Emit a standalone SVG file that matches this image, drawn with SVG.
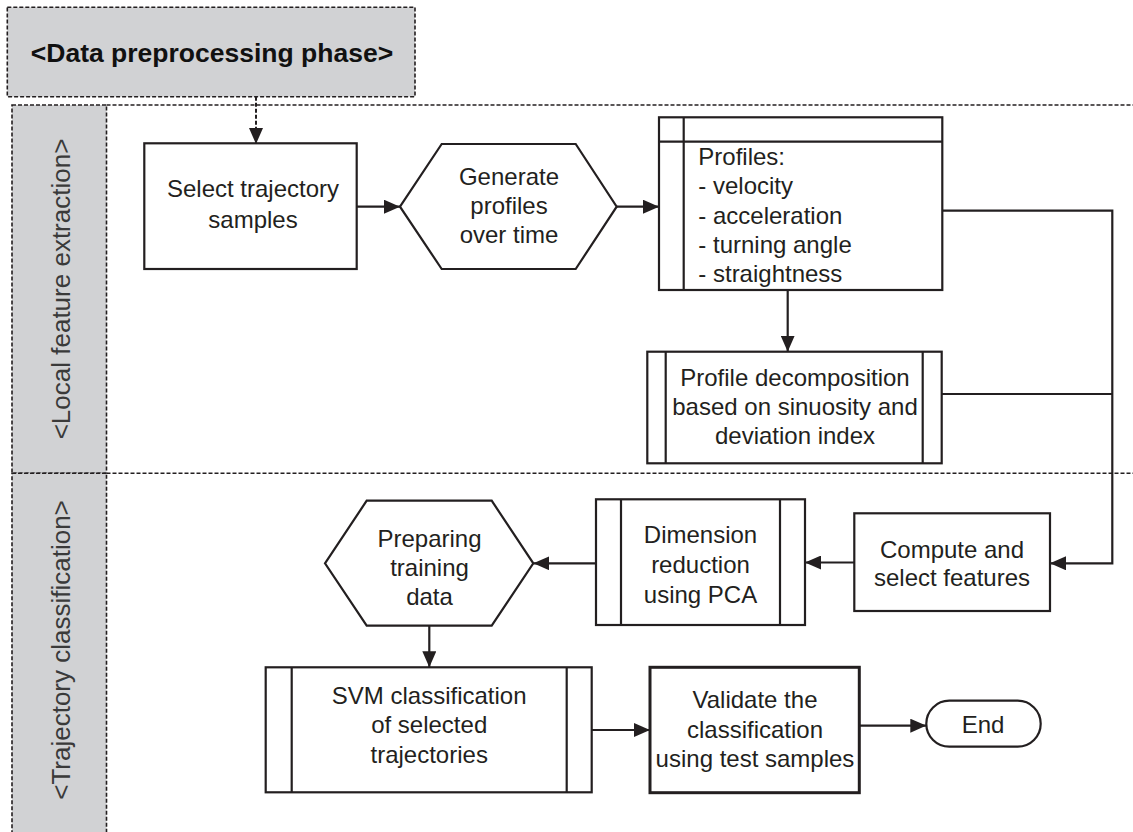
<svg xmlns="http://www.w3.org/2000/svg" width="1133" height="832" viewBox="0 0 1133 832">
<style>
.bg{fill:#ffffff}
.lane{fill:#d1d2d4;stroke:#231f20;stroke-width:1.6;stroke-dasharray:4 2}
.dash{fill:none;stroke:#231f20;stroke-width:1.6;stroke-dasharray:4 2}
.node{fill:#ffffff;stroke:#231f20;stroke-width:2.2}
.thick{fill:#ffffff;stroke:#231f20;stroke-width:3}
.inner{fill:none;stroke:#231f20;stroke-width:2.2}
.conn{fill:none;stroke:#231f20;stroke-width:2.2}
.dconn{fill:none;stroke:#231f20;stroke-width:2;stroke-dasharray:4 2}
.t{font-family:"Liberation Sans",Arial,sans-serif;font-size:24px;fill:#231f20;text-anchor:middle}
.tl{font-family:"Liberation Sans",Arial,sans-serif;font-size:24px;fill:#231f20;text-anchor:start}
.lanet{font-family:"Liberation Sans",Arial,sans-serif;font-size:26px;fill:#3a3a3a;text-anchor:middle}
.head{font-family:"Liberation Sans",Arial,sans-serif;font-size:26.5px;font-weight:bold;fill:#111111;text-anchor:middle}
</style>
<defs>
<marker id="arr" viewBox="0 0 16 14" refX="16" refY="7" markerWidth="16" markerHeight="14" markerUnits="userSpaceOnUse" orient="auto">
<path d="M0,0 L16,7 L0,14 z" fill="#231f20"/>
</marker>
</defs>
<rect class="bg" x="0" y="0" width="1133" height="832"/>

<g id="lanes">
<rect class="lane" x="12" y="105" width="94.5" height="368.3"/>
<rect class="lane" x="12" y="473.3" width="94.5" height="362"/>
<line class="dash" x1="106.5" y1="105" x2="1133" y2="105"/>
<line class="dash" x1="106.5" y1="473.3" x2="1133" y2="473.3"/>
<text class="lanet" transform="translate(69.5,289) rotate(-90)">&lt;Local feature extraction&gt;</text>
<text class="lanet" transform="translate(69.5,650) rotate(-90)">&lt;Trajectory classification&gt;</text>
</g>

<g id="header">
<rect class="lane" x="7.3" y="7.3" width="407.7" height="89.4"/>
<text class="head" x="212" y="62">&lt;Data preprocessing phase&gt;</text>
</g>

<g id="connectors">
<path class="dconn" d="M256,96.7 V144" marker-end="url(#arr)"/>
<path class="conn" d="M357,206.7 H400" marker-end="url(#arr)"/>
<path class="conn" d="M617,206.7 H659" marker-end="url(#arr)"/>
<path class="conn" d="M787.7,290 V351.7" marker-end="url(#arr)"/>
<path class="conn" d="M942.3,210.7 H1112.3 V563.3 H1050" marker-end="url(#arr)"/>
<path class="conn" d="M941.7,394 H1112.3"/>
<path class="conn" d="M854.3,562.5 H805" marker-end="url(#arr)"/>
<path class="conn" d="M596,563.3 H533.3" marker-end="url(#arr)"/>
<path class="conn" d="M429.3,625.7 V667.3" marker-end="url(#arr)"/>
<path class="conn" d="M591.7,730 H650" marker-end="url(#arr)"/>
<path class="conn" d="M859.3,725.7 H926.3" marker-end="url(#arr)"/>
</g>

<g id="select">
<rect class="node" x="144.3" y="143.3" width="212.4" height="125.7"/>
<text class="t" x="253" y="196.7">Select trajectory</text>
<text class="t" x="253" y="228">samples</text>
</g>

<g id="generate">
<polygon class="node" points="400,206.7 441.7,144 575.7,144 616.7,206.7 575.7,269 441.7,269"/>
<text class="t" x="509" y="185">Generate</text>
<text class="t" x="509" y="214.3">profiles</text>
<text class="t" x="509" y="243.3">over time</text>
</g>

<g id="profiles">
<rect class="node" x="659" y="117.3" width="283.3" height="172.7"/>
<line class="inner" x1="659" y1="141.7" x2="942.3" y2="141.7"/>
<line class="inner" x1="683.7" y1="117.3" x2="683.7" y2="290"/>
<text class="tl" x="698.3" y="165">Profiles:</text>
<text class="tl" x="698.3" y="194.3">- velocity</text>
<text class="tl" x="698.3" y="223.5">- acceleration</text>
<text class="tl" x="698.3" y="252.7">- turning angle</text>
<text class="tl" x="698.3" y="281.7">- straightness</text>
</g>

<g id="decomposition">
<rect class="node" x="647.3" y="351.7" width="294.4" height="111.6"/>
<line class="inner" x1="665.7" y1="351.7" x2="665.7" y2="463.3"/>
<line class="inner" x1="922.7" y1="351.7" x2="922.7" y2="463.3"/>
<text class="t" x="795" y="386">Profile decomposition</text>
<text class="t" x="795" y="415">based on sinuosity and</text>
<text class="t" x="795" y="444">deviation index</text>
</g>

<g id="compute">
<rect class="node" x="854.3" y="513.3" width="195.7" height="97.7"/>
<text class="t" x="952" y="558.3">Compute and</text>
<text class="t" x="952" y="586">select features</text>
</g>

<g id="dimension">
<rect class="node" x="596" y="499.3" width="209" height="125.7"/>
<line class="inner" x1="621" y1="499.3" x2="621" y2="625"/>
<line class="inner" x1="780" y1="499.3" x2="780" y2="625"/>
<text class="t" x="700.5" y="543.3">Dimension</text>
<text class="t" x="700.5" y="573.3">reduction</text>
<text class="t" x="700.5" y="602.7">using PCA</text>
</g>

<g id="preparing">
<polygon class="node" points="325,563.3 366.7,500.7 491.7,500.7 533.3,563.3 491.7,625.7 366.7,625.7"/>
<text class="t" x="429.5" y="546.7">Preparing</text>
<text class="t" x="429.5" y="576">training</text>
<text class="t" x="429.5" y="605">data</text>
</g>

<g id="svm">
<rect class="node" x="265.7" y="667.3" width="326" height="125"/>
<line class="inner" x1="291.7" y1="667.3" x2="291.7" y2="792.3"/>
<line class="inner" x1="566.7" y1="667.3" x2="566.7" y2="792.3"/>
<text class="t" x="429.2" y="704">SVM classification</text>
<text class="t" x="429.2" y="733.3">of selected</text>
<text class="t" x="429.2" y="762.7">trajectories</text>
</g>

<g id="validate">
<rect class="thick" x="650" y="667.3" width="209.3" height="125.4"/>
<text class="t" x="755" y="708.3">Validate the</text>
<text class="t" x="755" y="738.3">classification</text>
<text class="t" x="755" y="766.7">using test samples</text>
</g>

<g id="end">
<rect class="node" x="926.3" y="700.7" width="114.4" height="46" rx="23" ry="23"/>
<text class="t" x="983" y="733.3">End</text>
</g>
</svg>
